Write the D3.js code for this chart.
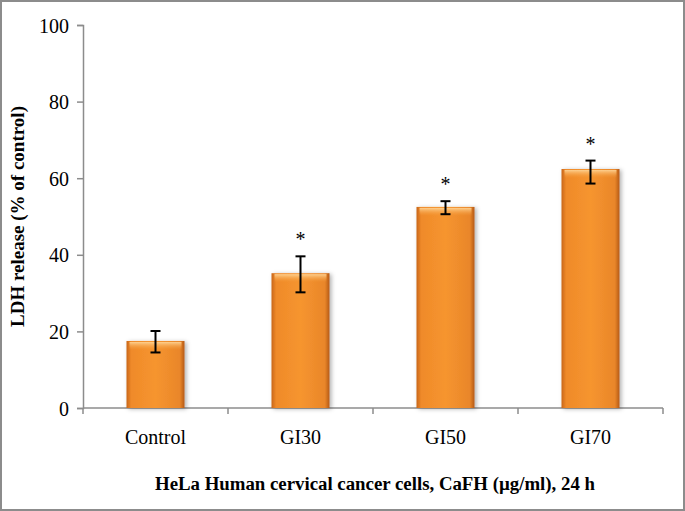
<!DOCTYPE html>
<html>
<head>
<meta charset="utf-8">
<script src="https://cdn.jsdelivr.net/npm/d3@7"></script>
<style>
  body { margin: 0; background: #fff; }
  svg { display: block; }
</style>
</head>
<body>
<div id="chart"></div>
<script>
const categories = ["Control", "GI30", "GI50", "GI70"]
const values = [17.5, 35.2, 52.5, 62.4]
const errLow = [14.5, 30.2, 50.6, 58.6]
const errHigh = [20.1, 39.6, 54.0, 64.6]
const marks = ["", "*", "*", "*"]
const yTicks = [0, 20, 40, 60, 80, 100]

const W = 685, H = 511
const m = { left: 83, right: 22, top: 25, bottom: 103 }

const svg = d3.select("#chart").append("svg")
  .attr("width", W).attr("height", H)

const defs = svg.append("defs")
const hg = defs.append("linearGradient").attr("id", "barH")
  .attr("x1", 0).attr("x2", 1).attr("y1", 0).attr("y2", 0)
hg.append("stop").attr("offset", "0%").attr("stop-color", "#c8661a")
hg.append("stop").attr("offset", "8%").attr("stop-color", "#ef8a2a")
hg.append("stop").attr("offset", "50%").attr("stop-color", "#f6952f")
hg.append("stop").attr("offset", "92%").attr("stop-color", "#e9862a")
hg.append("stop").attr("offset", "100%").attr("stop-color", "#b55a16")
const vg = defs.append("linearGradient").attr("id", "barV")
  .attr("x1", 0).attr("x2", 0).attr("y1", 0).attr("y2", 1)
vg.append("stop").attr("offset", "0%").attr("stop-color", "#ffd79a").attr("stop-opacity", 0.9)
vg.append("stop").attr("offset", "100%").attr("stop-color", "#f6a040").attr("stop-opacity", 0)
const sh = defs.append("filter").attr("id", "shadow")
  .attr("x", "-20%").attr("y", "-5%").attr("width", "150%").attr("height", "115%")
sh.append("feDropShadow").attr("dx", 2).attr("dy", 1).attr("stdDeviation", 2)
  .attr("flood-color", "#000").attr("flood-opacity", 0.3)

// outer frame
svg.append("rect").attr("x", 1).attr("y", 1).attr("width", W - 2).attr("height", H - 2)
  .attr("fill", "none").attr("stroke", "#8c8c8c").attr("stroke-width", 2)

const x = d3.scaleBand().domain(categories)
  .range([m.left, W - m.right]).paddingInner(0.6).paddingOuter(0.3)
const y = d3.scaleLinear().domain([0, 100]).range([H - m.bottom, m.top])

const font = "'Liberation Serif', 'Times New Roman', serif"

// y axis
const yAxis = svg.append("g").attr("transform", `translate(${m.left},0)`)
  .call(d3.axisLeft(y).tickValues(yTicks).tickSize(6).tickPadding(8))
yAxis.selectAll("path, line").attr("stroke", "#8c8c8c").attr("stroke-width", 1.5)
yAxis.selectAll("text").attr("font-family", font).attr("font-size", 20).attr("fill", "#000")
  .attr("dy", "0.35em")

// x axis with ticks between categories
const xAxisY = y(0)
const xg = svg.append("g")
xg.append("line").attr("x1", m.left).attr("x2", W - m.right)
  .attr("y1", xAxisY).attr("y2", xAxisY).attr("stroke", "#8c8c8c").attr("stroke-width", 1.5)
const step = x.step()
const bounds = d3.range(categories.length + 1).map(i => m.left + (W - m.right - m.left) * i / categories.length)
xg.selectAll(".tk").data(bounds).join("line")
  .attr("x1", d => d).attr("x2", d => d)
  .attr("y1", xAxisY).attr("y2", xAxisY + 6)
  .attr("stroke", "#8c8c8c").attr("stroke-width", 1.5)
const cx = d => x(d) + x.bandwidth() / 2
xg.selectAll(".lbl").data(categories).join("text")
  .attr("x", cx).attr("y", xAxisY + 36)
  .attr("text-anchor", "middle").attr("font-family", font).attr("font-size", 20)
  .text(d => d)

// bars
const bars = svg.append("g")
bars.selectAll(".bar").data(categories).join("rect")
  .attr("x", d => x(d)).attr("width", x.bandwidth())
  .attr("y", (d, i) => y(values[i])).attr("height", (d, i) => y(0) - y(values[i]))
  .attr("fill", "url(#barH)").attr("filter", "url(#shadow)")
bars.selectAll(".hl").data(categories).join("rect")
  .attr("x", d => x(d) + 3).attr("width", x.bandwidth() - 6)
  .attr("y", (d, i) => y(values[i]) + 1).attr("height", 8)
  .attr("fill", "url(#barV)")

// error bars
const eb = svg.append("g").attr("stroke", "#000").attr("stroke-width", 2)
categories.forEach((c, i) => {
  const xc = cx(c)
  eb.append("line").attr("x1", xc).attr("x2", xc).attr("y1", y(errHigh[i])).attr("y2", y(errLow[i]))
  eb.append("line").attr("x1", xc - 5).attr("x2", xc + 5).attr("y1", y(errHigh[i])).attr("y2", y(errHigh[i]))
  eb.append("line").attr("x1", xc - 5).attr("x2", xc + 5).attr("y1", y(errLow[i])).attr("y2", y(errLow[i]))
})

svg.selectAll(".star").data(categories).join("text")
  .attr("x", cx).attr("y", (d, i) => y(errHigh[i]) - 10)
  .attr("text-anchor", "middle").attr("font-family", font).attr("font-size", 20)
  .text((d, i) => marks[i])

// titles
svg.append("text")
  .attr("transform", `translate(24,${(m.top + H - m.bottom) / 2}) rotate(-90)`)
  .attr("text-anchor", "middle").attr("font-family", font).attr("font-weight", "bold")
  .attr("font-size", 19).text("LDH release (% of control)")
svg.append("text")
  .attr("x", 375).attr("y", 490).attr("text-anchor", "middle")
  .attr("font-family", font).attr("font-weight", "bold").attr("font-size", 18)
  .attr("textLength", 440).attr("lengthAdjust", "spacingAndGlyphs")
  .text("HeLa  Human cervical cancer cells, CaFH (µg/ml), 24 h")
</script>
</body>
</html>
